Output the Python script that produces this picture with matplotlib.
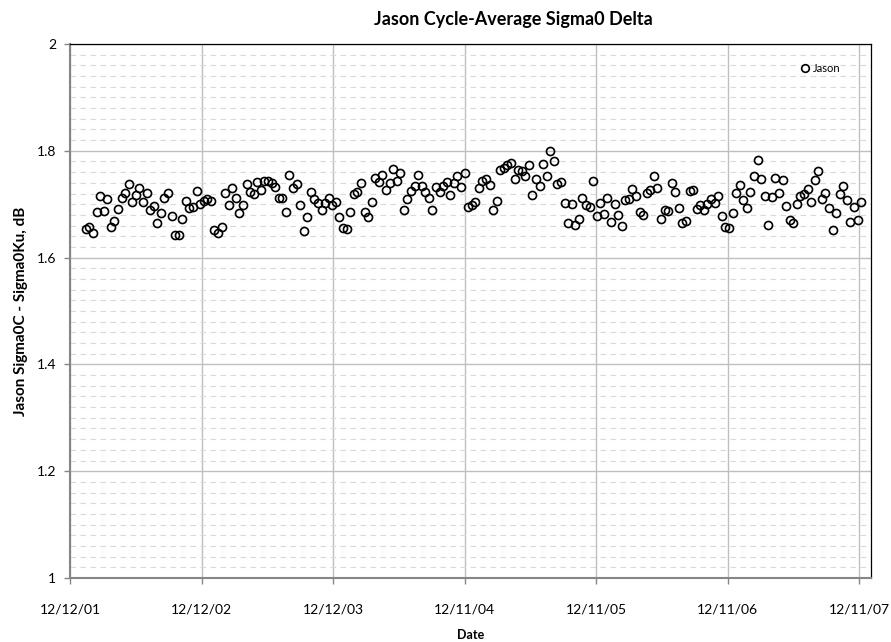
import datetime as dt

import matplotlib
matplotlib.use("Agg")
import matplotlib.pyplot as plt
import matplotlib.dates as mdates
from matplotlib.ticker import MultipleLocator, FuncFormatter

plt.rcParams['font.family'] = ['Lato', 'DejaVu Sans']

# Jason-1 cycle-average sigma0 delta (C - Ku), cycles 1..218
cycle_start = dt.datetime(2002, 1, 15)
cycle_days = 9.9156
cycles = list(range(1, 219))
delta = [
    1.654, 1.657, 1.646, 1.685, 1.716, 1.687, 1.709, 1.658, 1.669, 1.691,
    1.712, 1.721, 1.737, 1.705, 1.718, 1.731, 1.704, 1.721, 1.689, 1.697,
    1.664, 1.683, 1.711, 1.721, 1.677, 1.643, 1.643, 1.672, 1.706, 1.692,
    1.694, 1.724, 1.701, 1.706, 1.709, 1.706, 1.651, 1.646, 1.658, 1.721,
    1.699, 1.731, 1.711, 1.684, 1.698, 1.737, 1.723, 1.719, 1.741, 1.727,
    1.743, 1.743,
    1.739, 1.732, 1.712, 1.711, 1.686, 1.755, 1.731, 1.738, 1.699, 1.650,
    1.676, 1.723, 1.709, 1.702, 1.689, 1.702, 1.712, 1.699, 1.704, 1.676,
    1.656, 1.653, 1.686, 1.719, 1.723, 1.739, 1.686, 1.676, 1.705, 1.749,
    1.741, 1.754, 1.726, 1.739, 1.766, 1.743, 1.759, 1.690, 1.709, 1.724,
    1.735, 1.754, 1.735, 1.723, 1.711, 1.690, 1.732, 1.723, 1.734, 1.741,
    1.717, 1.739, 1.752, 1.732, 1.758, 1.694,
    1.699, 1.704, 1.730, 1.743, 1.747, 1.736, 1.689, 1.706, 1.764, 1.768,
    1.774, 1.777, 1.748, 1.764, 1.763, 1.753, 1.774, 1.718, 1.747, 1.734,
    1.776, 1.753, 1.800, 1.781, 1.738, 1.741, 1.703, 1.664, 1.701, 1.661,
    1.673, 1.712, 1.698, 1.695, 1.744, 1.677, 1.703, 1.681, 1.711, 1.666,
    1.701, 1.680, 1.659, 1.708, 1.710, 1.729, 1.716, 1.686, 1.679, 1.721,
    1.726, 1.753, 1.731, 1.672, 1.689, 1.687,
    1.739, 1.723, 1.692, 1.664, 1.669, 1.724, 1.726, 1.691, 1.699, 1.689,
    1.701, 1.709, 1.703, 1.716, 1.677, 1.658, 1.655, 1.684, 1.721, 1.736,
    1.708, 1.693, 1.723, 1.752, 1.782, 1.748, 1.716, 1.661, 1.713, 1.750,
    1.721, 1.745, 1.696, 1.670, 1.664, 1.701, 1.715, 1.719, 1.729, 1.705,
    1.745, 1.763, 1.709, 1.721, 1.692, 1.651, 1.683, 1.719, 1.734, 1.708,
    1.666, 1.694, 1.670, 1.704,
]

# points sit at the end of each cycle
dates = [cycle_start + dt.timedelta(days=c * cycle_days) for c in cycles]

x_start = dt.datetime(2001, 12, 12)
x_end = dt.datetime(2008, 1, 13)
tick_dates = [x_start + dt.timedelta(days=365 * k) for k in range(7)]

fig = plt.figure(figsize=(8.91, 6.42), dpi=100)
ax = fig.add_axes([70 / 891, 1 - 578 / 642, (871 - 70) / 891, (578 - 44) / 642])

ax.plot(dates, delta, linestyle='none', marker='o', markersize=5.8,
        markerfacecolor='none', markeredgecolor='black', markeredgewidth=1.2,
        label='Jason', clip_on=False, zorder=3)

ax.set_xlim(x_start, x_end)
ax.set_ylim(1, 2)
ax.set_xticks(tick_dates)
ax.xaxis.set_major_formatter(mdates.DateFormatter('%m/%d/%y'))
ax.yaxis.set_major_locator(MultipleLocator(0.2))
ax.yaxis.set_minor_locator(MultipleLocator(0.02))
ax.yaxis.set_major_formatter(FuncFormatter(lambda v, p: ('%.1f' % v).rstrip('0').rstrip('.')))

ax.grid(which='major', axis='both', color='#bfbfbf', linewidth=1.0)
ax.grid(which='minor', axis='y', color='#d9d9d9', linewidth=0.8, linestyle=(0, (5, 4)))
ax.set_axisbelow(True)

for side in ['left', 'bottom']:
    ax.spines[side].set_color('#868686')
    ax.spines[side].set_linewidth(1.5)
for side in ['top', 'right']:
    ax.spines[side].set_color('black')
    ax.spines[side].set_linewidth(0.9)

ax.tick_params(axis='both', which='major', length=4, color='#868686', labelsize=10, width=1)
ax.tick_params(axis='x', pad=14)
ax.tick_params(axis='y', pad=6)
ax.tick_params(which='minor', length=0)

fig.text(0.576, 0.969, 'Jason Cycle-Average Sigma0 Delta', ha='center', va='center',
         fontsize=13, fontweight='bold')
ax.set_xlabel('Date', fontsize=9, fontweight='bold', labelpad=10)
ax.set_ylabel('Jason Sigma0C - Sigma0Ku, dB', fontsize=11, fontweight='bold', labelpad=6)

ax.legend(loc='center left', bbox_to_anchor=((801 - 70) / 801, 1 - (68 - 44) / 534),
          frameon=False, fontsize=8, borderpad=0, borderaxespad=0,
          handlelength=0.8, handletextpad=0.3, markerscale=0.95)

fig.savefig('out.png', dpi=100)
